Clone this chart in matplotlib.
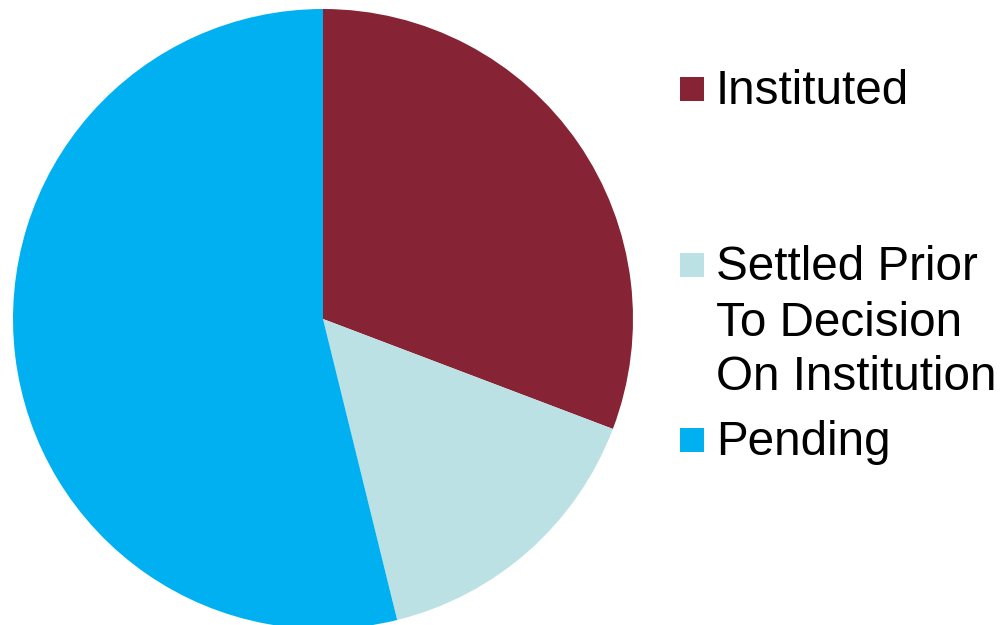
import matplotlib
matplotlib.use("Agg")
import matplotlib.pyplot as plt
from matplotlib.patches import Rectangle

categories = ["Instituted", "Settled Prior\nTo Decision\nOn Institution", "Pending"]
values = [4, 2, 7]
colors = ["#862334", "#BCE1E4", "#00B0F0"]

W, H = 1002, 625
fig = plt.figure(figsize=(W / 100, H / 100), dpi=100)
plt.rcParams['font.family'] = ['Liberation Sans', 'DejaVu Sans']

cx, cy, r = 323, 319, 310
ax = fig.add_axes([(cx - r) / W, (H - cy - r) / H, 2 * r / W, 2 * r / H])
ax.pie(values, colors=colors, startangle=90, counterclock=False, radius=1,
       wedgeprops=dict(linewidth=0))
ax.set_xlim(-1, 1)
ax.set_ylim(-1, 1)
ax.set_aspect('equal')
ax.axis('off')

# Legend drawn manually
marker_centers = [89, 265, 439.5]
msize = 24
line_h = 55
for lab, col, yc in zip(categories, colors, marker_centers):
    fig.patches.append(Rectangle(((680) / W, (H - yc - msize / 2) / H), msize / W, msize / H,
                                 transform=fig.transFigure, facecolor=col, edgecolor='none'))
    for i, line in enumerate(lab.split("\n")):
        base = yc + 15.5 + i * line_h
        fig.text(716 / W, (H - base) / H, line, fontsize=34.3, va='baseline', ha='left', color='black')

fig.savefig("out.png", dpi=100)
